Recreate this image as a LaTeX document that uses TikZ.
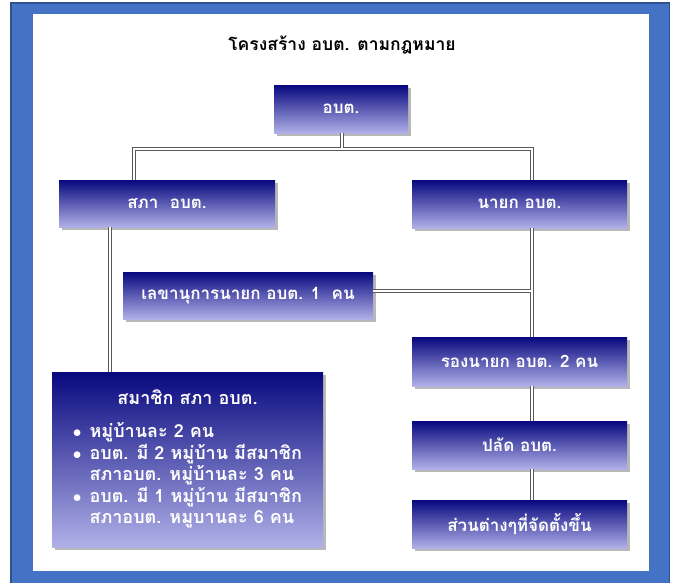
\documentclass[tikz,border=0pt]{standalone}
\usepackage{fontspec}
\newfontfamily\thai[Script=Thai]{Loma}
\usetikzlibrary{shadows,calc}
\definecolor{frameblue}{HTML}{4472C4}
\definecolor{frameedge}{HTML}{2F528F}
\definecolor{boxtop}{HTML}{08087F}
\definecolor{boxbot}{HTML}{B0B0E8}
\tikzset{
  orgbox/.style={rectangle, inner sep=0pt, top color=boxtop, bottom color=boxbot,
    draw=none, text=white, font=\thai\bfseries\fontsize{17}{21}\selectfont,
    drop shadow={shadow xshift=3pt, shadow yshift=-3pt, fill=black!55, opacity=0.5}},
}
\begin{document}
\begin{tikzpicture}[x=1pt,y=1pt]
\useasboundingbox (0,0) rectangle (678,-582);
\fill[white] (0,0) rectangle (678,-582);
\fill[frameedge] (10,-2) rectangle (670,-590);
\fill[frameblue] (11.5,-3.5) rectangle (668.5,-590);
\fill[white] (33,-14) rectangle (649,-571);

\node[font=\thai\bfseries\fontsize{17.5}{22}\selectfont] (title) at (342,-45) {โครงสร้าง อบต. ตามกฎหมาย};

\node[orgbox, minimum width=134, minimum height=48] (abt) at (341,-109) {อบต.};
\node[orgbox, minimum width=216, minimum height=47] (sapha) at (167,-203.5) {สภา\ \ อบต.};
\node[orgbox, minimum width=215, minimum height=48] (nayok) at (519.5,-204) {นายก อบต.};
\node[orgbox, minimum width=250, minimum height=47] (lekha) at (248,-295.5) {เลขานุการนายก อบต. 1\ \ คน};
\node[orgbox, minimum width=215, minimum height=49] (rong) at (519.5,-361.5) {รองนายก อบต. 2 คน};
\node[orgbox, minimum width=215, minimum height=48] (palad) at (519.5,-445) {ปลัด อบต.};
\node[orgbox, minimum width=215, minimum height=48] (suan) at (519.5,-524) {ส่วนต่างๆที่จัดตั้งขึ้น};
\node[orgbox, font=\thai\bfseries\fontsize{18}{21}\selectfont, minimum width=271, minimum height=175] (samachik) at (187.5,-459.5) {%
\begin{tabular}{@{}l@{}}
\multicolumn{1}{c}{สมาชิก สภา อบต.}\\[12pt]
$\bullet$\hspace{8pt}หมู่บ้านละ 2 คน\\
$\bullet$\hspace{8pt}อบต. มี 2 หมู่บ้าน มีสมาชิก\\
\phantom{$\bullet$}\hspace{8pt}สภาอบต. หมู่บ้านละ 3 คน\\
$\bullet$\hspace{8pt}อบต. มี 1 หมู่บ้าน มีสมาชิก\\
\phantom{$\bullet$}\hspace{8pt}สภาอบต. หมูบานละ 6 คน
\end{tabular}};

\coordinate (jtop) at (342,-149);
\coordinate (jleft) at (134,-149);
\coordinate (jright) at (532,-149);
\coordinate (jlekha) at (532,-291);
\coordinate (jsam) at (110,-300);

% double-line connectors: a grey band with a white core
\foreach \lc/\lw in {black!65/1.7, white/0.6}{
  \fill[\lc] ($(abt.south -| jtop)+(-\lw,0)$) rectangle ($(jtop)+(\lw,0)$);
  \fill[\lc] ($(jleft)+(-\lw,\lw)$) rectangle ($(jright)+(\lw,-\lw)$);
  \fill[\lc] ($(jleft)+(-\lw,\lw)$) rectangle ($(sapha.north -| jleft)+(\lw,0)$);
  \fill[\lc] ($(jright)+(-\lw,\lw)$) rectangle ($(nayok.north -| jright)+(\lw,0)$);
  \fill[\lc] ($(sapha.south -| jsam)+(-\lw,0)$) rectangle ($(samachik.north -| jsam)+(\lw,0)$);
  \fill[\lc] ($(nayok.south -| jright)+(-\lw,0)$) rectangle ($(rong.north -| jright)+(\lw,0)$);
  \fill[\lc] ($(lekha.east |- jlekha)+(0,\lw)$) rectangle ($(jlekha)+(0,-\lw)$);
  \fill[\lc] ($(rong.south -| jright)+(-\lw,0)$) rectangle ($(palad.north -| jright)+(\lw,0)$);
  \fill[\lc] ($(palad.south -| jright)+(-\lw,0)$) rectangle ($(suan.north -| jright)+(\lw,0)$);
}
\end{tikzpicture}
\end{document}
